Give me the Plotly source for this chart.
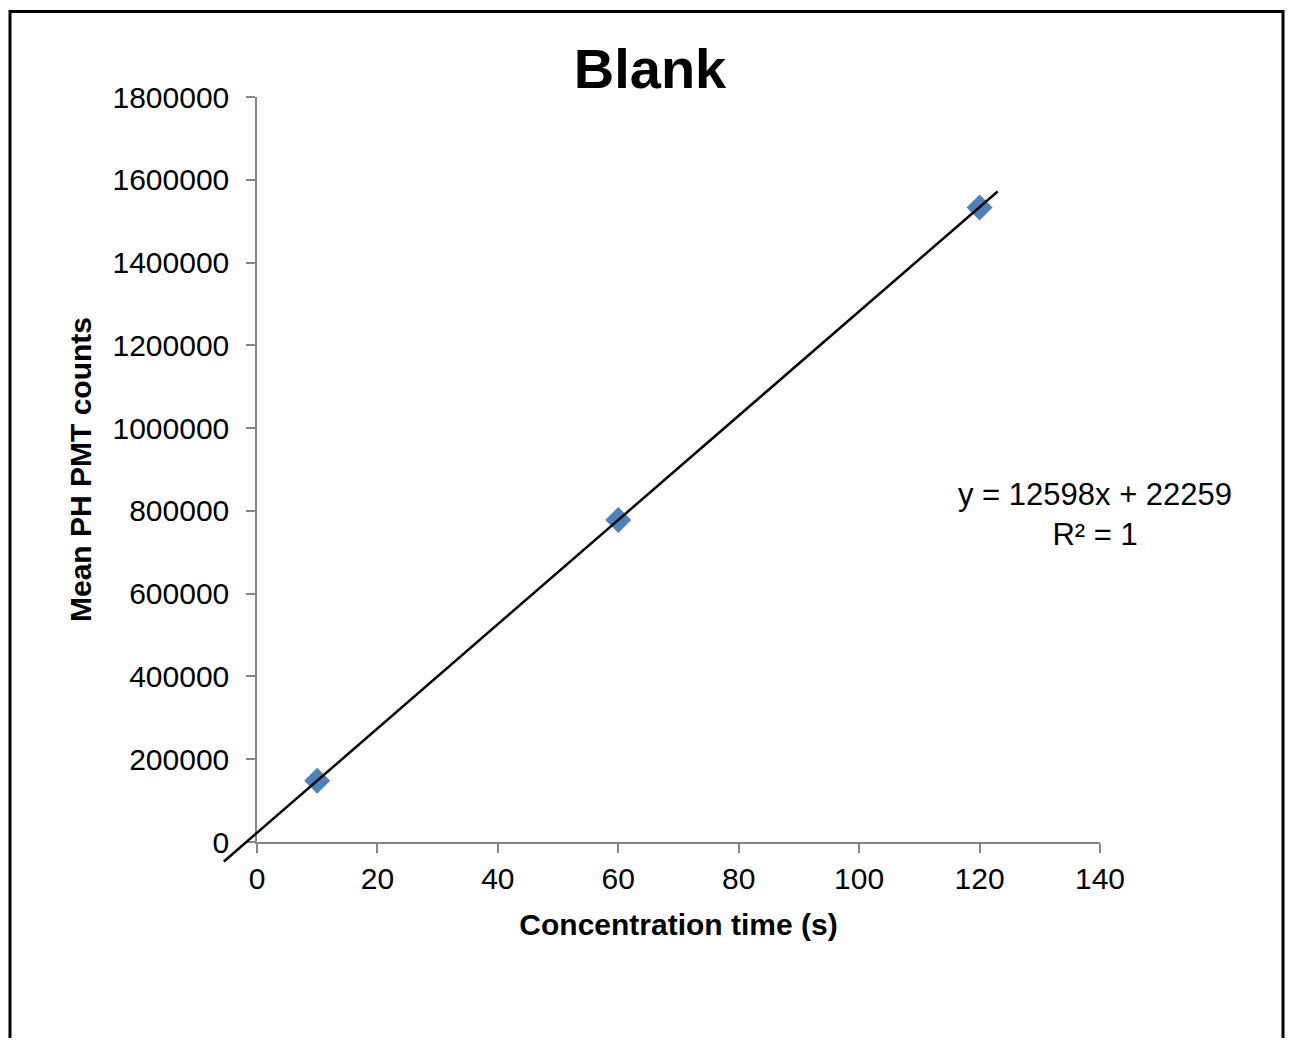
import plotly.graph_objects as go

# ---- data ----
conc_time = [10, 60, 120]
mean_counts = [148000, 778000, 1533000]
slope = 12598
intercept = 22259
r_squared = 1
trend_x = [-5.5, 123]
x_ticks = [0, 20, 40, 60, 80, 100, 120, 140]
y_ticks = [0, 200000, 400000, 600000, 800000, 1000000, 1200000, 1400000, 1600000, 1800000]

OFF = 8  # page body margin offset
W, H = 1294 - 2 * OFF, 1046 - 2 * OFF
L, R, T, B = 190 - OFF, 1100 - OFF, 97 - OFF, 880 - OFF  # outer plot region
pw, ph = R - L, B - T
# main axes occupy page pixels x 257..1100, y 97..842
dx = (257 - OFF - L) / pw
dy = (B - (842 - OFF)) / ph
xmax, ymax = 140, 1800000
x2lo = -dx * xmax / (1 - dx)
y2lo = -dy * ymax / (1 - dy)

FONT = "Liberation Sans, Arial, sans-serif"
AX = "#868686"

trend_y = [slope * v + intercept for v in trend_x]

fig = go.Figure()
fig.add_trace(go.Scatter(
    x=trend_x, y=trend_y, mode="lines", xaxis="x2", yaxis="y2",
    line=dict(color="black", width=2.5), showlegend=False, hoverinfo="skip"))
fig.add_trace(go.Scatter(
    x=conc_time, y=mean_counts, mode="markers",
    marker=dict(symbol="diamond", size=20, color="#4F81BD"),
    showlegend=False, cliponaxis=False))

tickfont = dict(family=FONT, size=30, color="black")
fig.update_layout(
    width=W, height=H,
    margin=dict(l=L, r=W - R, t=T, b=H - B, pad=0),
    paper_bgcolor="white", plot_bgcolor="rgba(0,0,0,0)",
    title=dict(text="<b>Blank</b>", font=dict(family=FONT, size=56, color="black"),
               x=(650 - OFF) / W, xref="container", xanchor="center",
               y=1 - (68 - OFF) / H, yref="container", yanchor="middle"),
    xaxis=dict(domain=[dx, 1], range=[0, xmax], tickvals=x_ticks,
               showgrid=False, zeroline=False, showline=True, linecolor=AX, linewidth=1.5,
               ticks="outside", ticklen=9, tickcolor=AX, tickwidth=1.5,
               tickfont=tickfont, anchor="y",
               title=dict(text="<b>Concentration time (s)</b>",
                          font=dict(family=FONT, size=30, color="black"), standoff=20)),
    yaxis=dict(domain=[dy, 1], range=[0, ymax], tickvals=y_ticks, tickformat="d",
               showgrid=False, zeroline=False, showline=True, linecolor=AX, linewidth=1.5,
               ticks="outside", ticklen=9, tickcolor=AX, tickwidth=1.5,
               tickfont=tickfont, anchor="x", ticklabelstandoff=11,
               title=dict(text="<b>Mean PH PMT counts</b>",
                          font=dict(family=FONT, size=30, color="black"), standoff=12)),
    xaxis2=dict(domain=[0, 1], range=[x2lo, xmax], visible=False, anchor="y2"),
    yaxis2=dict(domain=[0, 1], range=[y2lo, ymax], visible=False, anchor="x2"),
)

fig.add_annotation(
    text=f"y = {slope}x + {intercept}<br>R² = {r_squared}",
    xref="paper", yref="paper", x=(1095 - OFF - L) / pw, y=(B - (514 - OFF)) / ph,
    xanchor="center", yanchor="middle", showarrow=False, align="center",
    font=dict(family=FONT, size=31, color="black"))

# outer chart frame
fig.add_shape(type="rect", xref="paper", yref="paper",
              x0=(10 - OFF - L) / pw, x1=(1283 - OFF - L) / pw,
              y0=(B - 1070) / ph, y1=(B - (11.5 - OFF)) / ph,
              line=dict(color="black", width=3), fillcolor="rgba(0,0,0,0)", layer="below")

fig.write_html("out.html")
